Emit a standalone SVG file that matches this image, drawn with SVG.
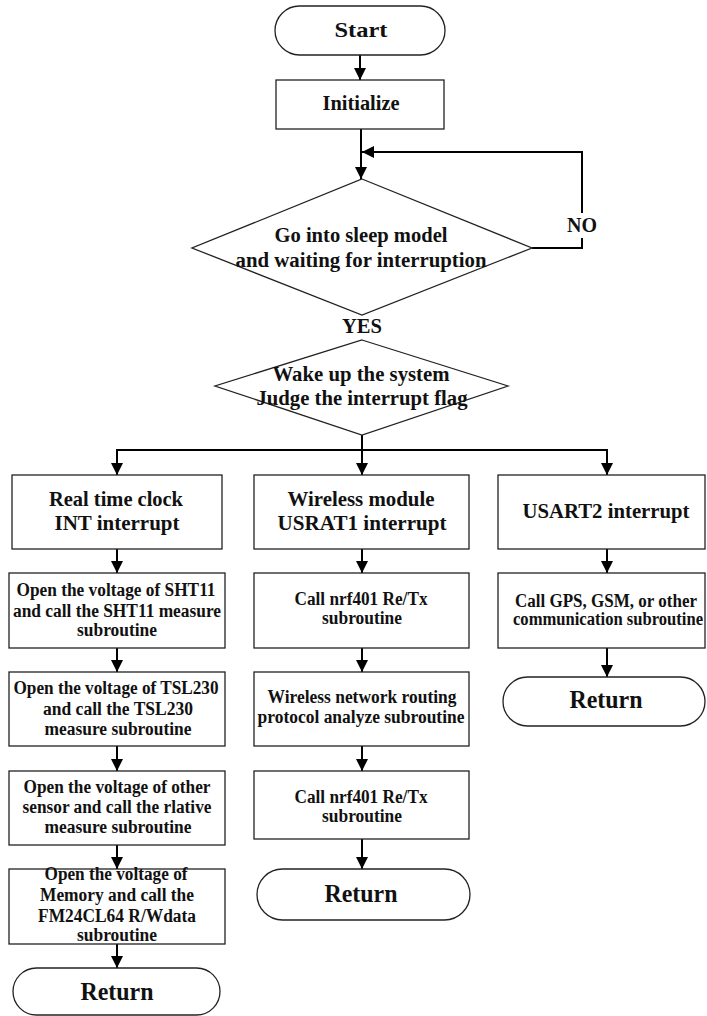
<svg xmlns="http://www.w3.org/2000/svg" width="707" height="1016" viewBox="0 0 707 1016">
<style>
.s{fill:#fff;stroke:#222;stroke-width:1.3}
.t{font-family:"Liberation Serif","Times New Roman",serif;font-weight:bold;fill:#111;text-anchor:middle}
.c{fill:none;stroke:#000;stroke-width:2}
</style>
<defs>
<marker id="ah" markerUnits="userSpaceOnUse" markerWidth="12" markerHeight="12" refX="12" refY="6" orient="auto">
<path d="M0,0 L12,6 L0,12 z" fill="#000"/>
</marker>
</defs>
<rect width="707" height="1016" fill="#fff"/>
<g id="connectors">
<path class="c" d="M360,55 V80" marker-end="url(#ah)"/>
<path class="c" d="M361,129 V179" marker-end="url(#ah)"/>
<path class="c" d="M532,248 H582 V238"/>
<path class="c" d="M582,213 V152 H362" marker-end="url(#ah)"/>
<path class="c" d="M362,435 V450"/>
<path class="c" d="M117,475 V450 H607 V475" marker-end="url(#ah)"/>
<path class="c" d="M117,450 V475" marker-end="url(#ah)"/>
<path class="c" d="M362,450 V475" marker-end="url(#ah)"/>
<path class="c" d="M117,549 V573" marker-end="url(#ah)"/>
<path class="c" d="M117,648 V672" marker-end="url(#ah)"/>
<path class="c" d="M117,746 V771" marker-end="url(#ah)"/>
<path class="c" d="M117,845 V869" marker-end="url(#ah)"/>
<path class="c" d="M117,944 V968" marker-end="url(#ah)"/>
<path class="c" d="M362,549 V573" marker-end="url(#ah)"/>
<path class="c" d="M362,648 V672" marker-end="url(#ah)"/>
<path class="c" d="M362,746 V771" marker-end="url(#ah)"/>
<path class="c" d="M362,839 V869" marker-end="url(#ah)"/>
<path class="c" d="M607,549 V573" marker-end="url(#ah)"/>
<path class="c" d="M607,648 V677" marker-end="url(#ah)"/>
<text class="t" x="582" y="232" font-size="20" textLength="30" lengthAdjust="spacingAndGlyphs">NO</text>
<text class="t" x="362" y="333" font-size="20" textLength="40" lengthAdjust="spacingAndGlyphs">YES</text>
</g>
<g id="start">
<rect class="s" x="275" y="6" width="170" height="49" rx="24.5"/>
<text class="t" x="361" y="37" font-size="21" textLength="53" lengthAdjust="spacingAndGlyphs">Start</text>
</g>
<g id="init">
<rect class="s" x="276" y="80" width="168" height="49"/>
<text class="t" x="361" y="110" font-size="20" textLength="77" lengthAdjust="spacingAndGlyphs">Initialize</text>
</g>
<g id="sleep">
<polygon class="s" points="362,179 532,248 362,315 192,248"/>
<text class="t" x="361" y="242" font-size="20" textLength="173" lengthAdjust="spacingAndGlyphs">Go into sleep model</text>
<text class="t" x="361" y="267" font-size="20" textLength="251" lengthAdjust="spacingAndGlyphs">and waiting for interruption</text>
</g>
<g id="wake">
<polygon class="s" points="362,340 508,386 362,435 215,386"/>
<text class="t" x="361" y="381" font-size="20" textLength="177" lengthAdjust="spacingAndGlyphs">Wake up the system</text>
<text class="t" x="362" y="405" font-size="20" textLength="211" lengthAdjust="spacingAndGlyphs">Judge the interrupt flag</text>
</g>
<g id="rtc">
<rect class="s" x="12" y="475" width="210" height="74"/>
<text class="t" x="116" y="506" font-size="21" textLength="134" lengthAdjust="spacingAndGlyphs">Real time clock</text>
<text class="t" x="117" y="530" font-size="21" textLength="125" lengthAdjust="spacingAndGlyphs">INT interrupt</text>
</g>
<g id="sht11">
<rect class="s" x="9" y="573" width="216" height="75"/>
<text class="t" x="116" y="596" font-size="18" textLength="199" lengthAdjust="spacingAndGlyphs">Open the voltage of SHT11</text>
<text class="t" x="117" y="617" font-size="18" textLength="208" lengthAdjust="spacingAndGlyphs">and call the SHT11 measure</text>
<text class="t" x="117" y="636" font-size="18" textLength="80" lengthAdjust="spacingAndGlyphs">subroutine</text>
</g>
<g id="tsl230">
<rect class="s" x="9" y="672" width="216" height="74"/>
<text class="t" x="116" y="694" font-size="18" textLength="205" lengthAdjust="spacingAndGlyphs">Open the voltage of TSL230</text>
<text class="t" x="118" y="715" font-size="18" textLength="150" lengthAdjust="spacingAndGlyphs">and call the TSL230</text>
<text class="t" x="118" y="735" font-size="18" textLength="147" lengthAdjust="spacingAndGlyphs">measure subroutine</text>
</g>
<g id="other">
<rect class="s" x="9" y="771" width="216" height="74"/>
<text class="t" x="117" y="793" font-size="18" textLength="187" lengthAdjust="spacingAndGlyphs">Open the voltage of other</text>
<text class="t" x="117" y="813" font-size="18" textLength="189" lengthAdjust="spacingAndGlyphs">sensor and call the rlative</text>
<text class="t" x="118" y="833" font-size="18" textLength="147" lengthAdjust="spacingAndGlyphs">measure subroutine</text>
</g>
<g id="memory">
<rect class="s" x="9" y="869" width="216" height="75"/>
<text class="t" x="116" y="880" font-size="18" textLength="143" lengthAdjust="spacingAndGlyphs">Open the voltage of</text>
<text class="t" x="117" y="901" font-size="18" textLength="154" lengthAdjust="spacingAndGlyphs">Memory and call the</text>
<text class="t" x="117" y="922" font-size="18" textLength="158" lengthAdjust="spacingAndGlyphs">FM24CL64 R/Wdata</text>
<text class="t" x="117" y="941" font-size="18" textLength="80" lengthAdjust="spacingAndGlyphs">subroutine</text>
</g>
<g id="return1">
<rect class="s" x="13" y="968" width="207" height="47" rx="23.5"/>
<text class="t" x="117" y="1000" font-size="25" textLength="73" lengthAdjust="spacingAndGlyphs">Return</text>
</g>
<g id="wireless">
<rect class="s" x="254" y="475" width="215" height="74"/>
<text class="t" x="361" y="506" font-size="21" textLength="147" lengthAdjust="spacingAndGlyphs">Wireless module</text>
<text class="t" x="362" y="530" font-size="21" textLength="169" lengthAdjust="spacingAndGlyphs">USRAT1 interrupt</text>
</g>
<g id="nrf1">
<rect class="s" x="254" y="573" width="215" height="75"/>
<text class="t" x="361" y="605" font-size="18" textLength="133" lengthAdjust="spacingAndGlyphs">Call nrf401 Re/Tx</text>
<text class="t" x="362" y="624" font-size="18" textLength="80" lengthAdjust="spacingAndGlyphs">subroutine</text>
</g>
<g id="routing">
<rect class="s" x="254" y="672" width="215" height="74"/>
<text class="t" x="362" y="703" font-size="18" textLength="189" lengthAdjust="spacingAndGlyphs">Wireless network routing</text>
<text class="t" x="361" y="723" font-size="18" textLength="207" lengthAdjust="spacingAndGlyphs">protocol analyze subroutine</text>
</g>
<g id="nrf2">
<rect class="s" x="254" y="771" width="215" height="68"/>
<text class="t" x="361" y="803" font-size="18" textLength="133" lengthAdjust="spacingAndGlyphs">Call nrf401 Re/Tx</text>
<text class="t" x="362" y="822" font-size="18" textLength="80" lengthAdjust="spacingAndGlyphs">subroutine</text>
</g>
<g id="return2">
<rect class="s" x="257" y="869" width="213" height="51" rx="25.5"/>
<text class="t" x="361" y="902" font-size="25" textLength="73" lengthAdjust="spacingAndGlyphs">Return</text>
</g>
<g id="usart2">
<rect class="s" x="498" y="475" width="207" height="74"/>
<text class="t" x="606" y="518" font-size="21" textLength="167" lengthAdjust="spacingAndGlyphs">USART2 interrupt</text>
</g>
<g id="gps">
<rect class="s" x="498" y="573" width="207" height="75"/>
<text class="t" x="606" y="607" font-size="18" textLength="182" lengthAdjust="spacingAndGlyphs">Call GPS, GSM, or other</text>
<text class="t" x="608" y="625" font-size="18" textLength="190" lengthAdjust="spacingAndGlyphs">communication subroutine</text>
</g>
<g id="return3">
<rect class="s" x="503" y="677" width="202" height="49" rx="24.5"/>
<text class="t" x="606" y="708" font-size="25" textLength="73" lengthAdjust="spacingAndGlyphs">Return</text>
</g>
</svg>
